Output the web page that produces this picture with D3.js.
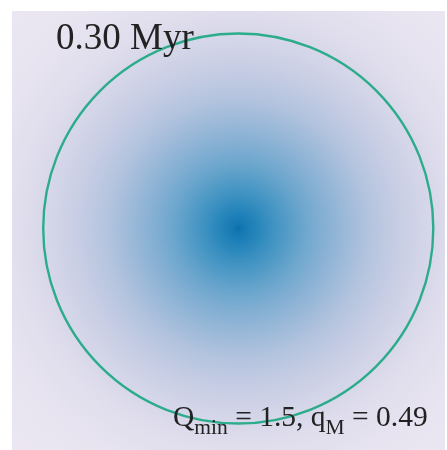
<!DOCTYPE html>
<html>
<head>
<meta charset="utf-8">
<script src="https://cdn.jsdelivr.net/npm/d3@7"></script>
<style>
  html, body { margin: 0; padding: 0; background: #ffffff; }
  #wrap { position: relative; width: 447px; height: 450px; overflow: hidden; }
  #wrap canvas, #wrap svg { position: absolute; left: 0; top: 0; }
</style>
</head>
<body>
<div id="wrap"></div>
<script>
// Azimuthally averaged surface density of the cluster (log10, arbitrary units)
const profileR = [0.0, 0.015, 0.05, 0.17, 0.34, 0.51, 0.68, 0.86, 1.0, 1.1, 1.3, 1.6];
const profileLogSigma = [2.1, 1.92, 1.8, 1.46, 1.04, 0.68, 0.32, 0.04, -0.14, -0.28, -0.42, -0.52];
const colorDomain = [-1, 3];

// Tidal / half-mass ring
const ringRadius = [1.0];
const ringCentre = [0.0, 0.0];

// Annotations
const timeLabel = "0.30 Myr";
const qMin = "1.5";
const qM = "0.49";

const W = 447, H = 450;
const frame = { x0: 12, x1: 445, y0: 11, y1: 450 };

const x = d3.scaleLinear().domain([-1.16, 1.06]).range([frame.x0, frame.x1]);
const y = d3.scaleLinear().domain([1.115, -1.136]).range([frame.y0, frame.y1]);

const sigma = d3.scaleLinear().domain(profileR).range(profileLogSigma).clamp(true);
const color = d3.scaleSequential(d3.interpolatePuBu).domain(colorDomain);

const wrap = d3.select("#wrap");

// Density map
const canvas = wrap.append("canvas").attr("width", W).attr("height", H).node();
const ctx = canvas.getContext("2d");
const img = ctx.createImageData(W, H);
for (let i = 0; i < img.data.length; i++) img.data[i] = 255;
for (let py = frame.y0; py < frame.y1; py++) {
  for (let px = frame.x0; px < frame.x1; px++) {
    const dx = x.invert(px + 0.5) - ringCentre[0];
    const dy = y.invert(py + 0.5) - ringCentre[1];
    const r = Math.sqrt(dx * dx + dy * dy);
    const c = d3.rgb(color(sigma(r)));
    const i = (py * W + px) * 4;
    img.data[i] = c.r; img.data[i + 1] = c.g; img.data[i + 2] = c.b; img.data[i + 3] = 255;
  }
}
ctx.putImageData(img, 0, 0);

const svg = wrap.append("svg").attr("width", W).attr("height", H);

svg.selectAll("ellipse.ring")
  .data(ringRadius)
  .join("ellipse")
  .attr("class", "ring")
  .attr("cx", x(ringCentre[0]))
  .attr("cy", y(ringCentre[1]))
  .attr("rx", d => x(d) - x(0))
  .attr("ry", d => y(-d) - y(0))
  .attr("fill", "none")
  .attr("stroke", "#2cac8b")
  .attr("stroke-width", 2.4);

const serif = "'Liberation Serif', 'DejaVu Serif', serif";

svg.append("text")
  .attr("x", 56)
  .attr("y", 49)
  .attr("font-family", serif)
  .attr("font-size", 37)
  .attr("fill", "#222222")
  .text(timeLabel);

const lab = svg.append("text")
  .attr("x", 173)
  .attr("y", 426)
  .attr("font-family", serif)
  .attr("font-size", 29.5)
  .attr("fill", "#222222");
lab.append("tspan").text("Q");
lab.append("tspan").attr("dy", 8).attr("font-size", 21.5).text("min");
lab.append("tspan").attr("dy", -8).text(" = " + qMin + ", q");
lab.append("tspan").attr("dy", 8).attr("font-size", 21.5).text("M");
lab.append("tspan").attr("dy", -8).text(" = " + qM);
</script>
</body>
</html>
